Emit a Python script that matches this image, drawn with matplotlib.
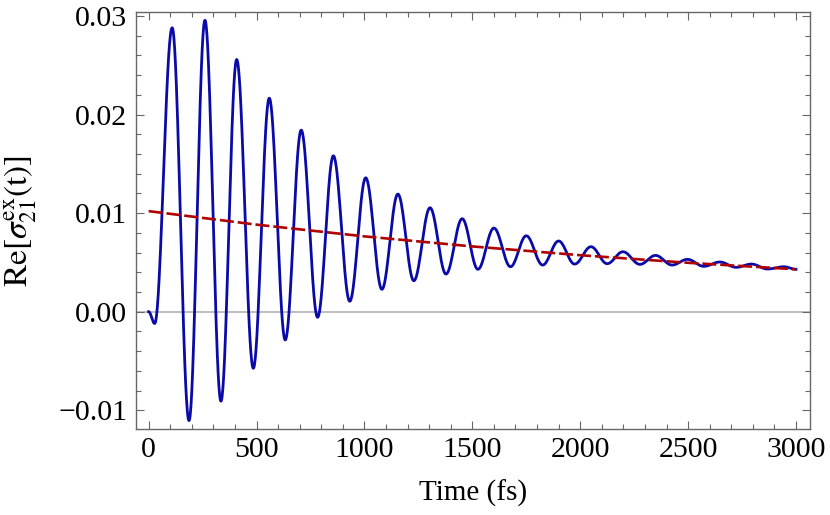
import numpy as np
import matplotlib
matplotlib.use("Agg")
import matplotlib.pyplot as plt
from matplotlib.ticker import MultipleLocator

# Extrema of the oscillating signal (time in fs, value)
ext_time = [0, 28, 109, 187, 261, 335, 408, 485, 559, 633, 707, 783, 856, 932,
            1006, 1081, 1155, 1229, 1304, 1378, 1453, 1526, 1600, 1677, 1750,
            1826, 1900, 1974, 2050, 2125, 2198, 2277, 2349, 2426, 2497, 2573,
            2647, 2723, 2794, 2868, 2944, 3000]
ext_value = [0.0, -0.0012, 0.0288, -0.01105, 0.02956, -0.00908, 0.02558,
             -0.00574, 0.02166, -0.00287, 0.01842, -0.00057, 0.01581, 0.00106,
             0.01358, 0.00227, 0.01193, 0.00314, 0.01054, 0.00382, 0.00943,
             0.00430, 0.00848, 0.00456, 0.00770, 0.00473, 0.00717, 0.00483,
             0.00659, 0.00487, 0.00608, 0.00480, 0.00571, 0.00473, 0.00531,
             0.00460, 0.00504, 0.00450, 0.00483, 0.00433, 0.00456, 0.00430]

# Dashed envelope
env_time = [0, 500, 1000, 1500, 2000, 2500, 3000]
env_value = [0.0102, 0.00883, 0.00764, 0.00662, 0.00573, 0.00496, 0.00430]

x_ticks = [0, 500, 1000, 1500, 2000, 2500, 3000]
y_ticks = [-0.01, 0.0, 0.01, 0.02, 0.03]

# smooth half-cosine segments between consecutive read extrema
ts, vs = [], []
for i in range(len(ext_time) - 1):
    s = np.linspace(0, 1, 40, endpoint=False)
    ts.append(ext_time[i] + (ext_time[i + 1] - ext_time[i]) * s)
    vs.append(ext_value[i] + (ext_value[i + 1] - ext_value[i]) * (1 - np.cos(np.pi * s)) / 2)
ts.append([ext_time[-1]])
vs.append([ext_value[-1]])
t_curve = np.concatenate(ts)
v_curve = np.concatenate(vs)

plt.rcParams['font.family'] = ['Liberation Serif', 'DejaVu Serif']
plt.rcParams['mathtext.fontset'] = 'stix'

fig = plt.figure(figsize=(8.3, 5.15), dpi=100)
ax = fig.add_axes([0.1635, 0.167, 0.9759 - 0.1635, 0.9767 - 0.167])

ax.axhline(0, color='#b3b3b3', lw=1.2, zorder=1)
ax.plot(t_curve, v_curve, color='#0a0aa8', lw=2.0, zorder=3)
ax.plot(env_time, env_value, color='#b00000', lw=1.9, dashes=(5.3, 1.5), zorder=4)

ax.set_xlim(-60, 3065)
ax.set_ylim(-0.0119, 0.0304)
ax.set_xticks(x_ticks)
ax.set_yticks(y_ticks)
ax.xaxis.set_minor_locator(MultipleLocator(100))
ax.yaxis.set_minor_locator(MultipleLocator(0.002))
ax.yaxis.set_major_formatter(matplotlib.ticker.FuncFormatter(
    lambda v, p: ('\u2212' if v < -1e-12 else '') + f"{abs(v):.2f}"))

frame_color = '#666666'
for sp in ax.spines.values():
    sp.set_color(frame_color)
    sp.set_linewidth(1.0)
ax.tick_params(which='both', direction='in', top=True, right=True,
               color=frame_color, width=0.8)
ax.tick_params(which='major', length=6, labelsize=21.5, pad=6)
ax.tick_params(which='minor', length=3.5)

ax.set_xlabel('Time (fs)', fontsize=21, labelpad=12)
ax.set_ylabel(r'$\mathrm{Re}[\sigma_{21}^{\mathrm{ex}}(\mathrm{t})]$', fontsize=24, labelpad=15)

fig.savefig('out.png', dpi=100)
